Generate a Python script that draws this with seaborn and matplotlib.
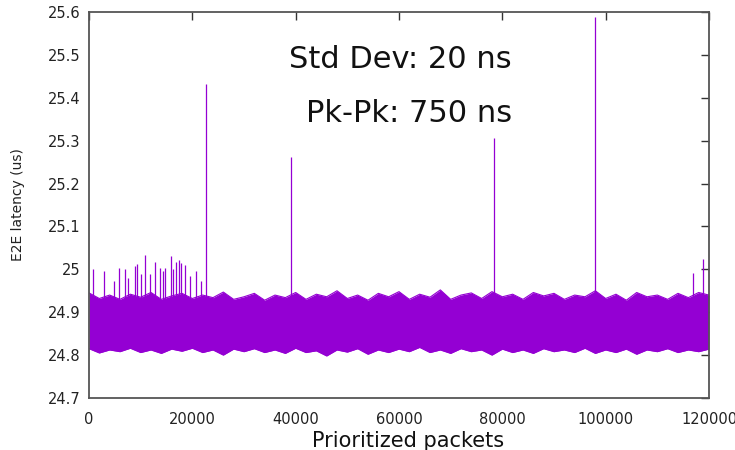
import numpy as np
import pandas as pd
import matplotlib
matplotlib.use("Agg")
import matplotlib.pyplot as plt
import seaborn as sns
from matplotlib.ticker import FuncFormatter

# ---- data ----
env_x = list(range(0, 120001, 2000))
upper = [24.945, 24.932, 24.940, 24.930, 24.942, 24.935, 24.946, 24.930, 24.938, 24.944,
         24.932, 24.940, 24.934, 24.947, 24.930, 24.936, 24.944, 24.928, 24.940, 24.934,
         24.946, 24.930, 24.942, 24.936, 24.950, 24.932, 24.940, 24.928, 24.944, 24.936,
         24.948, 24.930, 24.942, 24.935, 24.952, 24.930, 24.940, 24.945, 24.932, 24.948,
         24.936, 24.942, 24.930, 24.946, 24.938, 24.944, 24.930, 24.940, 24.936, 24.950,
         24.932, 24.942, 24.928, 24.946, 24.936, 24.940, 24.930, 24.944, 24.934, 24.946, 24.940]
lower = [24.815, 24.805, 24.812, 24.808, 24.816, 24.806, 24.812, 24.804, 24.814, 24.809,
         24.816, 24.806, 24.812, 24.800, 24.814, 24.808, 24.815, 24.806, 24.812, 24.804,
         24.816, 24.806, 24.810, 24.798, 24.812, 24.807, 24.815, 24.802, 24.812, 24.806,
         24.814, 24.808, 24.818, 24.806, 24.812, 24.804, 24.815, 24.808, 24.812, 24.800,
         24.814, 24.806, 24.812, 24.804, 24.815, 24.808, 24.812, 24.806, 24.816, 24.804,
         24.812, 24.806, 24.814, 24.802, 24.812, 24.808, 24.815, 24.806, 24.812, 24.808, 24.814]

spike_x = [830, 2840, 4900, 5740, 6970, 7480, 8900, 9350, 10060, 10900, 11800, 12710,
           13740, 14260, 14700, 15810, 16200, 16900, 17480, 17870, 18580, 19610, 20650,
           21680, 22640, 39100, 78390, 97940, 116840, 118770]
spike_y = [25.000, 24.996, 24.973, 25.004, 25.000, 24.980, 25.008, 25.012, 24.990, 25.033,
           24.988, 25.016, 25.004, 24.995, 25.004, 25.031, 25.000, 25.018, 25.022, 25.014,
           25.009, 24.985, 24.996, 24.973, 25.432, 25.262, 25.306, 25.588, 24.992, 25.023]

x_ticks = [0, 20000, 40000, 60000, 80000, 100000, 120000]
y_ticks = [24.7, 24.8, 24.9, 25.0, 25.1, 25.2, 25.3, 25.4, 25.5, 25.6]
annotations = ["Std Dev: 20 ns", "Pk-Pk: 750 ns"]

color = "#9400D3"

sns.set_style("white")
plt.rcParams["font.family"] = ["DejaVu Sans"]

fig = plt.figure(figsize=(7.35, 4.5), dpi=100)
ax = fig.add_axes([89 / 735, 1 - 398 / 450, 620 / 735, 386 / 450])

env = pd.DataFrame({"x": env_x, "upper": upper, "lower": lower})
ax.fill_between(env["x"], env["lower"], env["upper"], color=color, linewidth=0)
sns.lineplot(data=env, x="x", y="upper", color=color, linewidth=0.8, ax=ax)
sns.lineplot(data=env, x="x", y="lower", color=color, linewidth=0.8, ax=ax)

sp = pd.DataFrame({"x": spike_x, "y": spike_y})
ax.vlines(sp["x"], 24.9, sp["y"], color=color, linewidth=0.9)

ax.set_xlim(0, 120000)
ax.set_ylim(24.7, 25.6)
ax.set_xticks(x_ticks)
ax.set_yticks(y_ticks)
ax.xaxis.set_major_formatter(FuncFormatter(lambda v, p: f"{int(v)}"))
ax.yaxis.set_major_formatter(FuncFormatter(lambda v, p: f"{v:g}"))
ax.tick_params(direction="in", length=6, width=1.0, color="#333333",
               top=True, right=True, labelsize=10.5, labelcolor="#222222")
ax.tick_params(axis="x", pad=10)
ax.tick_params(axis="y", pad=6)
for s in ax.spines.values():
    s.set_visible(True)
    s.set_color("#555555")
    s.set_linewidth(1.3)

ax.set_xlabel("Prioritized packets", fontsize=15, color="#111111")
ax.xaxis.set_label_coords(0.514, -0.085)
ax.set_ylabel("E2E latency (us)", fontsize=10, color="#222222")
ax.yaxis.set_label_coords(-0.104, 0.5)

ax.text(0.682, 0.855, annotations[0], transform=ax.transAxes, ha="right",
        va="baseline", fontsize=22, color="#111111")
ax.text(0.682, 0.715, annotations[1], transform=ax.transAxes, ha="right",
        va="baseline", fontsize=22, color="#111111")

fig.savefig("out.png", dpi=100)
